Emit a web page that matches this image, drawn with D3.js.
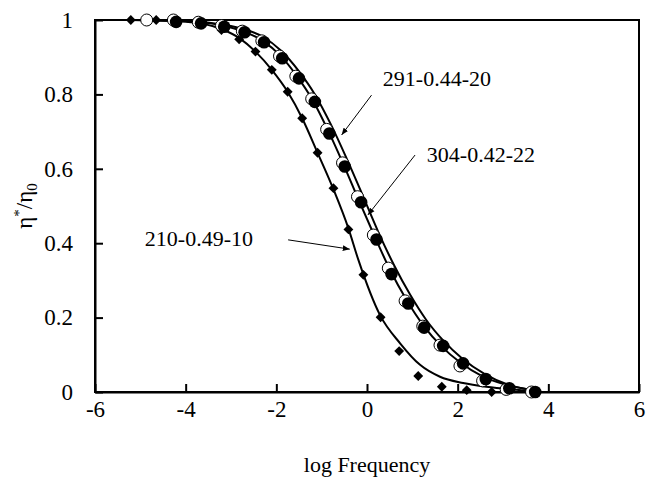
<!DOCTYPE html>
<html>
<head>
<meta charset="utf-8">
<script src="https://cdn.jsdelivr.net/npm/d3@7"></script>
<style>
  body { margin: 0; background: #fff; }
  text { font-family: "Liberation Serif", "Times New Roman", serif; fill: #000; }
</style>
</head>
<body>
<div id="chart"></div>
<script>
// measured points, [log frequency, eta*/eta0]
const pts210 = [[-5.21, 1.0], [-4.65, 1.0], [-4.2, 0.997], [-3.7, 0.99], [-3.21, 0.973], [-2.82, 0.948],
  [-2.46, 0.915], [-2.10, 0.866], [-1.75, 0.807], [-1.43, 0.736], [-1.09, 0.643], [-0.74, 0.548],
  [-0.41, 0.437], [-0.08, 0.315], [0.30, 0.201], [0.71, 0.110], [1.13, 0.043], [1.65, 0.014],
  [2.20, 0.005], [2.75, 0.0]];
const pts304 = [[-4.86, 1.0], [-4.27, 1.0], [-3.72, 0.994], [-3.21, 0.985], [-2.75, 0.970], [-2.32, 0.944],
  [-1.93, 0.903], [-1.57, 0.849], [-1.22, 0.788], [-0.89, 0.706], [-0.54, 0.616], [-0.21, 0.525],
  [0.14, 0.422], [0.47, 0.333], [0.84, 0.245], [1.23, 0.177], [1.61, 0.126], [2.05, 0.070],
  [2.55, 0.030], [3.07, 0.007], [3.63, 0.0]];
const pts291 = [[-4.21, 0.995], [-3.66, 0.991], [-3.15, 0.982], [-2.70, 0.967], [-2.27, 0.940],
  [-1.87, 0.897], [-1.50, 0.843], [-1.15, 0.780], [-0.83, 0.695], [-0.49, 0.606], [-0.13, 0.510],
  [0.21, 0.410], [0.54, 0.317], [0.91, 0.238], [1.26, 0.173], [1.68, 0.124], [2.12, 0.077],
  [2.62, 0.035], [3.14, 0.010], [3.71, 0.0]];

// fitted curves
const fit210 = [[-5.2, 1.0], [-4.0, 0.995], [-3.2, 0.975], [-2.8, 0.95], [-2.46, 0.915], [-2.1, 0.866],
  [-1.75, 0.807], [-1.43, 0.736], [-1.09, 0.643], [-0.74, 0.545], [-0.41, 0.44], [-0.19, 0.355],
  [0.29, 0.206], [0.73, 0.131], [1.17, 0.073], [1.61, 0.041], [2.12, 0.024], [2.63, 0.014],
  [3.2, 0.007], [3.7, 0.003]];
const fit304 = [[-5.0, 1.0], [-4.0, 0.997], [-3.2, 0.985], [-2.7, 0.968], [-2.3, 0.944], [-1.9, 0.903],
  [-1.55, 0.85], [-1.2, 0.785], [-0.87, 0.706], [-0.52, 0.612], [-0.18, 0.515], [0.17, 0.418],
  [0.51, 0.328], [0.86, 0.25], [1.25, 0.178], [1.65, 0.122], [2.05, 0.08], [2.55, 0.042],
  [3.05, 0.02], [3.7, 0.004]];
const fit291 = [[-5.0, 1.0], [-4.0, 0.998], [-3.2, 0.988], [-2.7, 0.975], [-2.3, 0.955], [-1.9, 0.918],
  [-1.5, 0.862], [-1.15, 0.8], [-0.8, 0.72], [-0.45, 0.628], [-0.1, 0.53], [0.25, 0.43],
  [0.6, 0.34], [0.95, 0.262], [1.3, 0.195], [1.7, 0.136], [2.1, 0.09], [2.6, 0.048],
  [3.1, 0.02], [3.7, 0.005]];

const xTicks = [-6, -4, -2, 0, 2, 4, 6];
const yTicks = [0, 0.2, 0.4, 0.6, 0.8, 1];
const xTickLabels = ["-6", "-4", "-2", "0", "2", "4", "6"];
const yTickLabels = ["0", "0.2", "0.4", "0.6", "0.8", "1"];

// labels: text, text x/y, arrow from, arrow to (data units)
const notes = [
  { text: "291-0.44-20", at: [0.35, 0.823], from: [0.10, 0.798], to: [-0.56, 0.691] },
  { text: "304-0.42-22", at: [1.32, 0.618], from: [1.06, 0.637], to: [0.02, 0.476] },
  { text: "210-0.49-10", at: [-4.90, 0.392], from: [-1.74, 0.409], to: [-0.38, 0.384] }
];

const W = 646, H = 477;
const pLeft = 95, pRight = 639, pTop = 20, pBottom = 392;

const svg = d3.select("#chart").append("svg")
  .attr("width", W).attr("height", H);

svg.append("defs").append("marker")
  .attr("id", "arr")
  .attr("viewBox", "0 0 10 10")
  .attr("refX", 10).attr("refY", 5)
  .attr("markerWidth", 7).attr("markerHeight", 7)
  .attr("markerUnits", "userSpaceOnUse")
  .attr("orient", "auto")
  .append("path").attr("d", "M0,1 L10,5 L0,9 Z").attr("fill", "#000");

const x = d3.scaleLinear().domain([-6, 6]).range([pLeft, pRight]);
const y = d3.scaleLinear().domain([0, 1]).range([pBottom, pTop]);

// frame
svg.append("rect")
  .attr("x", pLeft).attr("y", pTop)
  .attr("width", pRight - pLeft).attr("height", pBottom - pTop)
  .attr("fill", "none").attr("stroke", "#000").attr("stroke-width", 2);

const xAxis = svg.append("g")
  .attr("transform", "translate(0," + pBottom + ")")
  .call(d3.axisBottom(x).tickValues(xTicks).tickFormat((d, i) => xTickLabels[i])
    .tickSizeInner(-8).tickSizeOuter(0).tickPadding(9));
const yAxis = svg.append("g")
  .attr("transform", "translate(" + pLeft + ",0)")
  .call(d3.axisLeft(y).tickValues(yTicks).tickFormat((d, i) => yTickLabels[i])
    .tickSizeInner(-8).tickSizeOuter(0).tickPadding(22));

[xAxis, yAxis].forEach(g => {
  g.select(".domain").attr("stroke", "#000").attr("stroke-width", 2);
  g.selectAll(".tick line").attr("stroke", "#000").attr("stroke-width", 2);
  g.selectAll(".tick text")
    .style("font-family", "'Liberation Serif', 'Times New Roman', serif")
    .style("font-size", "23px").attr("fill", "#000");
});

// axis titles
svg.append("text")
  .attr("x", (pLeft + pRight) / 2).attr("y", 472)
  .attr("text-anchor", "middle")
  .style("font-size", "22px")
  .text("log Frequency");

const yt = svg.append("text")
  .attr("transform", "translate(32," + ((pTop + pBottom) / 2) + ") rotate(-90)")
  .attr("text-anchor", "middle")
  .style("font-size", "23px");
yt.append("tspan").text("η");
yt.append("tspan").attr("dy", -8).style("font-size", "15px").text("*");
yt.append("tspan").attr("dy", 8).text("/η");
yt.append("tspan").attr("dy", 5).style("font-size", "15px").text("0");

// fit lines
const line = d3.line()
  .x(d => x(d[0])).y(d => y(d[1]))
  .curve(d3.curveMonotoneX);

[fit210, fit304, fit291].forEach(f => {
  svg.append("path")
    .datum(f)
    .attr("fill", "none")
    .attr("stroke", "#000")
    .attr("stroke-width", 2)
    .attr("d", line);
});

// markers
svg.append("g").selectAll("path")
  .data(pts210).enter().append("path")
  .attr("transform", d => "translate(" + x(d[0]) + "," + y(d[1]) + ")")
  .attr("d", d3.symbol().type(d3.symbolDiamond2).size(62))
  .attr("fill", "#000");

svg.append("g").selectAll("circle")
  .data(pts304).enter().append("circle")
  .attr("cx", d => x(d[0])).attr("cy", d => y(d[1]))
  .attr("r", 6)
  .attr("fill", "#fff").attr("stroke", "#000").attr("stroke-width", 1);

svg.append("g").selectAll("circle")
  .data(pts291).enter().append("circle")
  .attr("cx", d => x(d[0])).attr("cy", d => y(d[1]))
  .attr("r", 6.3)
  .attr("fill", "#000");

// labels with arrows
notes.forEach(n => {
  svg.append("text")
    .attr("x", x(n.at[0])).attr("y", y(n.at[1]))
    .style("font-size", "22px")
    .text(n.text);
  svg.append("line")
    .attr("x1", x(n.from[0])).attr("y1", y(n.from[1]))
    .attr("x2", x(n.to[0])).attr("y2", y(n.to[1]))
    .attr("stroke", "#000").attr("stroke-width", 1)
    .attr("marker-end", "url(#arr)");
});
</script>
</body>
</html>
